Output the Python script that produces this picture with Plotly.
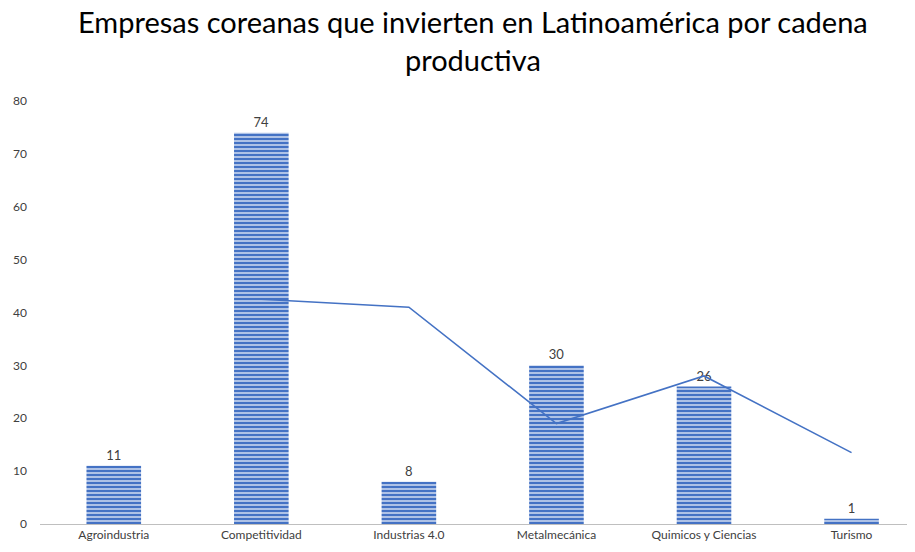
import plotly.graph_objects as go

categories = ["Agroindustria", "Competitividad", "Industrias 4.0", "Metalmecánica", "Quimicos y Ciencias", "Turismo"]
empresas = [11, 74, 8, 30, 26, 1]
# 2-period moving average trend line (as in the reference)
trend_x = categories[1:]
trend_y = [(empresas[i - 1] + empresas[i]) / 2 for i in range(1, len(empresas))]
y_ticks = [0, 10, 20, 30, 40, 50, 60, 70, 80]

fig = go.Figure()
fig.add_trace(go.Bar(
    x=categories, y=empresas, width=0.37,
    marker=dict(color="#c9d6ef", line=dict(width=0),
                pattern=dict(shape="-", fgcolor="#4472C4", bgcolor="#c9d6ef", size=4, solidity=0.6,
                             fgopacity=1)),
    text=[str(v) for v in empresas], textposition="outside",
    textfont=dict(color="#404040", size=13, family="Lato"),
    cliponaxis=False, showlegend=False,
))
fig.add_trace(go.Scatter(
    x=trend_x, y=trend_y, mode="lines",
    line=dict(color="#4472C4", width=1.6), showlegend=False,
))

fig.add_annotation(
    text="Empresas coreanas que invierten en Latinoamérica por cadena<br>productiva",
    xref="paper", yref="paper", x=0.495, xanchor="center", y=1, yanchor="bottom", yshift=22,
    showarrow=False, font=dict(family="Lato", size=29, color="black"),
)

fig.update_layout(
    width=915, height=552,
    margin=dict(l=32, r=8, t=93, b=36),
    paper_bgcolor="white", plot_bgcolor="white",
    xaxis=dict(range=[-0.5, 5.43], showgrid=False, showline=True, linecolor="#bfbfbf", linewidth=1,
               ticks="", automargin=False, tickfont=dict(family="Lato", size=12, color="#404040")),
    yaxis=dict(range=[0, 80], tickvals=y_ticks, showgrid=False, zeroline=False, showline=False,
               automargin=False, tickfont=dict(family="Lato", size=12, color="#404040"), ticklabelstandoff=12),
    bargap=0.6,
)

fig.write_html("out.html")
